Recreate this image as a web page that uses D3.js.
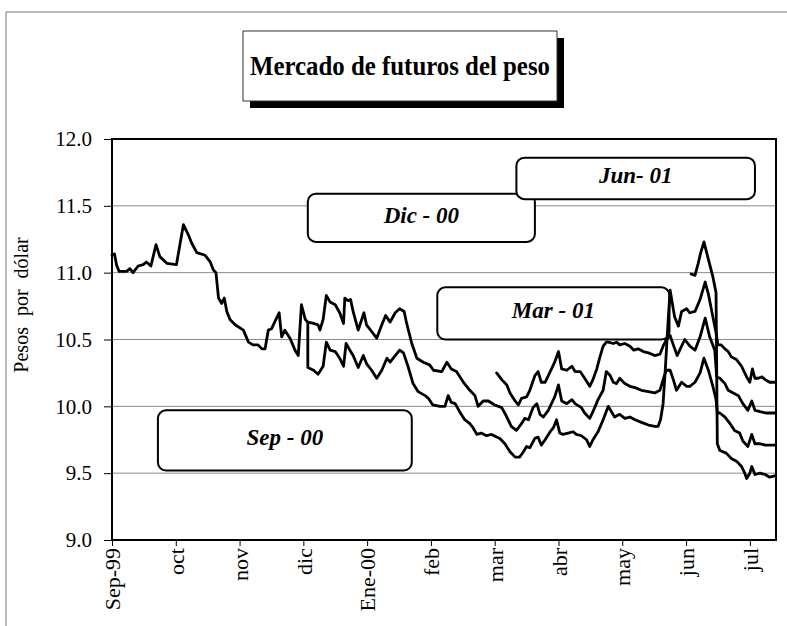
<!DOCTYPE html>
<html>
<head>
<meta charset="utf-8">
<script src="https://cdn.jsdelivr.net/npm/d3@7"></script>
<style>
  body { margin: 0; background: #fff; }
  svg { display: block; font-family: "Liberation Serif", "Times New Roman", serif; }
  .grid line { stroke: #8a8a8a; stroke-width: 1; }
  .serie { fill: none; stroke: #000; stroke-width: 2.8; stroke-linejoin: round; stroke-linecap: round; }
  .tag rect { fill: #fff; stroke: #000; stroke-width: 2; }
  .tag text { font-weight: bold; font-style: italic; font-size: 23px; text-anchor: middle; }
</style>
</head>
<body>
<svg id="chart" width="787" height="626"></svg>
<script>
// x = months since Sep-99 (0 = Sep-99, 1 = oct, ...), y = pesos por dolar
const month_lbl = ["Sep-99", "oct", "nov", "dic", "Ene-00", "feb", "mar", "abr", "may", "jun", "jul"];
const y_ticks = [9.0, 9.5, 10.0, 10.5, 11.0, 11.5, 12.0];
const x_end = 10.41; // last month shown (mid jul)

// contract opened Sep-99, upper path from dic, middle from mar
const s_first = [[0.00, 11.13], [0.04, 11.14], [0.07, 11.06], [0.11, 11.01], [0.23, 11.01], [0.28, 11.03], [0.33, 11.00],
  [0.41, 11.05], [0.49, 11.06], [0.54, 11.08], [0.61, 11.05], [0.69, 11.21], [0.75, 11.12], [0.86, 11.07], [1.01, 11.06],
  [1.12, 11.36], [1.20, 11.28], [1.25, 11.22], [1.33, 11.15], [1.46, 11.13], [1.54, 11.08], [1.59, 11.02], [1.63, 11.00],
  [1.67, 10.81], [1.72, 10.77], [1.76, 10.81], [1.80, 10.71], [1.85, 10.65], [1.93, 10.61], [2.06, 10.57], [2.14, 10.48],
  [2.21, 10.46], [2.29, 10.46], [2.35, 10.43], [2.40, 10.43], [2.45, 10.57], [2.50, 10.58], [2.55, 10.63], [2.62, 10.70],
  [2.66, 10.52], [2.71, 10.57], [2.79, 10.51], [2.87, 10.42], [2.92, 10.38], [2.97, 10.76], [3.03, 10.65], [3.07, 10.63],
  [3.16, 10.62], [3.23, 10.61], [3.26, 10.57], [3.31, 10.65], [3.36, 10.83], [3.42, 10.78], [3.50, 10.76], [3.57, 10.70],
  [3.63, 10.62], [3.65, 10.81], [3.70, 10.79], [3.74, 10.80], [3.78, 10.71], [3.86, 10.57], [3.95, 10.70], [3.99, 10.61],
  [4.07, 10.56], [4.15, 10.51], [4.23, 10.61], [4.29, 10.68], [4.36, 10.63], [4.44, 10.70], [4.51, 10.73], [4.58, 10.71],
  [4.62, 10.62], [4.70, 10.47], [4.78, 10.36], [4.88, 10.33], [4.98, 10.31], [5.04, 10.27], [5.17, 10.26], [5.25, 10.33],
  [5.32, 10.28], [5.40, 10.26], [5.51, 10.18], [5.61, 10.12], [5.69, 10.08], [5.74, 10.00], [5.82, 10.04], [5.90, 10.04],
  [6.00, 10.01], [6.11, 9.99], [6.19, 9.92], [6.26, 9.85], [6.34, 9.82], [6.42, 9.87], [6.47, 9.91], [6.53, 9.90],
  [6.60, 9.99], [6.66, 10.02], [6.71, 9.94], [6.76, 9.92], [6.84, 9.97], [6.89, 10.02], [6.94, 10.07], [7.00, 10.16],
  [7.05, 10.04], [7.13, 10.02], [7.21, 10.05], [7.26, 10.02], [7.36, 9.99], [7.41, 9.95], [7.49, 9.91], [7.54, 9.96],
  [7.62, 10.05], [7.70, 10.12], [7.75, 10.26], [7.81, 10.23], [7.86, 10.18], [7.91, 10.17], [7.96, 10.21], [8.04, 10.17],
  [8.12, 10.15], [8.20, 10.14], [8.30, 10.12], [8.41, 10.11], [8.51, 10.10], [8.59, 10.12], [8.64, 10.20], [8.69, 10.27],
  [8.75, 10.27], [8.80, 10.20], [8.85, 10.12], [8.93, 10.18], [9.01, 10.15], [9.06, 10.15], [9.14, 10.18], [9.22, 10.25],
  [9.28, 10.36], [9.35, 10.27], [9.42, 10.15], [9.47, 10.05], [9.49, 9.95], [9.53, 9.95], [9.61, 9.92], [9.69, 9.87],
  [9.76, 9.82], [9.84, 9.80], [9.89, 9.74], [9.97, 9.70], [10.03, 9.79], [10.08, 9.72], [10.16, 9.72], [10.24, 9.71],
  [10.39, 9.71]];

// splits off at dic, lowest path until jun, then jumps to the top
const s_second = [[3.07, 10.63], [3.07, 10.29], [3.16, 10.27], [3.23, 10.24], [3.31, 10.30], [3.36, 10.48], [3.42, 10.42],
  [3.50, 10.41], [3.57, 10.36], [3.63, 10.30], [3.67, 10.47], [3.73, 10.42], [3.78, 10.38], [3.86, 10.29], [3.94, 10.38],
  [3.99, 10.32], [4.07, 10.27], [4.15, 10.21], [4.23, 10.27], [4.31, 10.36], [4.36, 10.33], [4.44, 10.38], [4.51, 10.42],
  [4.57, 10.40], [4.64, 10.30], [4.72, 10.17], [4.80, 10.11], [4.91, 10.08], [4.96, 10.06], [5.03, 10.01], [5.14, 10.00],
  [5.22, 10.00], [5.27, 10.08], [5.32, 10.03], [5.38, 10.02], [5.45, 9.96], [5.53, 9.90], [5.61, 9.87], [5.66, 9.84],
  [5.72, 9.79], [5.79, 9.80], [5.87, 9.78], [5.95, 9.79], [6.08, 9.76], [6.16, 9.72], [6.24, 9.66], [6.32, 9.62],
  [6.39, 9.62], [6.45, 9.66], [6.50, 9.70], [6.55, 9.69], [6.63, 9.76], [6.68, 9.77], [6.73, 9.71], [6.79, 9.75],
  [6.87, 9.81], [6.92, 9.84], [6.97, 9.90], [7.02, 9.80], [7.07, 9.79], [7.15, 9.80], [7.23, 9.81], [7.28, 9.79],
  [7.36, 9.78], [7.44, 9.75], [7.49, 9.70], [7.54, 9.75], [7.62, 9.81], [7.70, 9.90], [7.78, 10.00], [7.83, 9.96],
  [7.88, 9.92], [7.96, 9.94], [8.04, 9.91], [8.12, 9.92], [8.20, 9.90], [8.30, 9.88], [8.41, 9.86], [8.51, 9.85],
  [8.56, 9.85], [8.60, 9.90], [8.64, 10.02], [8.68, 10.32], [8.72, 10.65], [8.75, 10.87], [8.82, 10.67], [8.88, 10.60],
  [8.93, 10.71], [9.01, 10.73], [9.06, 10.70], [9.14, 10.71], [9.22, 10.80], [9.30, 10.93], [9.35, 10.84], [9.42, 10.67],
  [9.47, 10.55], [9.50, 10.46], [9.55, 10.46], [9.61, 10.43], [9.66, 10.41], [9.71, 10.37], [9.79, 10.35], [9.87, 10.30],
  [9.95, 10.22], [10.00, 10.18], [10.04, 10.28], [10.08, 10.21], [10.13, 10.21], [10.19, 10.22], [10.24, 10.20],
  [10.31, 10.18], [10.39, 10.18]];

// starts in mar
const s_third = [[6.03, 10.25], [6.11, 10.20], [6.19, 10.16], [6.24, 10.10], [6.32, 10.04], [6.37, 10.01], [6.42, 10.06],
  [6.50, 10.07], [6.55, 10.12], [6.63, 10.23], [6.68, 10.26], [6.73, 10.18], [6.79, 10.18], [6.87, 10.26], [6.94, 10.33],
  [7.00, 10.41], [7.05, 10.28], [7.13, 10.27], [7.21, 10.30], [7.26, 10.26], [7.34, 10.26], [7.41, 10.21], [7.49, 10.15],
  [7.54, 10.20], [7.60, 10.28], [7.65, 10.37], [7.70, 10.45], [7.75, 10.48], [7.78, 10.48], [7.86, 10.47], [7.91, 10.48],
  [7.96, 10.46], [8.04, 10.47], [8.12, 10.45], [8.18, 10.42], [8.25, 10.43], [8.33, 10.41], [8.41, 10.40], [8.51, 10.38],
  [8.59, 10.39], [8.64, 10.45], [8.69, 10.50], [8.75, 10.53], [8.80, 10.46], [8.86, 10.38], [8.93, 10.45], [8.98, 10.50],
  [9.06, 10.45], [9.14, 10.42], [9.22, 10.52], [9.30, 10.66], [9.37, 10.52], [9.45, 10.42], [9.48, 10.22], [9.53, 10.21],
  [9.61, 10.17], [9.66, 10.12], [9.74, 10.10], [9.82, 10.08], [9.89, 10.02], [9.97, 9.97], [10.03, 10.04], [10.08, 9.97],
  [10.16, 9.96], [10.26, 9.95], [10.39, 9.95]];

// starts in jun
const s_fourth = [[9.08, 10.99], [9.14, 10.98], [9.19, 11.07], [9.23, 11.15], [9.28, 11.23], [9.35, 11.10], [9.42, 10.97],
  [9.47, 10.85], [9.49, 9.72], [9.53, 9.67], [9.63, 9.65], [9.71, 9.61], [9.79, 9.59], [9.87, 9.55], [9.92, 9.50],
  [9.95, 9.46], [10.00, 9.50], [10.03, 9.55], [10.08, 9.49], [10.16, 9.50], [10.24, 9.49], [10.31, 9.47], [10.39, 9.48]];

const series = [s_first, s_second, s_third, s_fourth];

// label boxes: text, and box corners in data units (month, value)
const tag_txt = ["Sep - 00", "Dic - 00", "Mar - 01", "Jun- 01"];
const tag_x = [[0.72, 4.70], [3.07, 6.63], [5.10, 8.74], [6.34, 10.08]];
const tag_y = [[9.97, 9.52], [11.59, 11.23], [10.89, 10.50], [11.86, 11.55]];

const svg = d3.select("#chart");
const plot = { l: 112, r: 776, t: 139, b: 540 };

const xs = d3.scaleLinear().domain([0, x_end]).range([plot.l, plot.r]);
const ys = d3.scaleLinear().domain([9, 12]).range([plot.b, plot.t]);

// page frame (scan border)
svg.append("line").attr("x1", 6).attr("y1", 12).attr("x2", 6).attr("y2", 626)
    .attr("stroke", "#777").attr("stroke-width", 1);
svg.append("line").attr("x1", 6).attr("y1", 12).attr("x2", 787).attr("y2", 12)
    .attr("stroke", "#777").attr("stroke-width", 1);

// title box with shadow
const tb = { x: 243, y: 31, w: 314, h: 70 };
svg.append("rect").attr("x", tb.x + 7).attr("y", tb.y + 7).attr("width", tb.w).attr("height", tb.h).attr("fill", "#000");
svg.append("rect").attr("x", tb.x).attr("y", tb.y).attr("width", tb.w).attr("height", tb.h)
    .attr("fill", "#fff").attr("stroke", "#333").attr("stroke-width", 1);
svg.append("text").attr("x", tb.x + tb.w / 2).attr("y", tb.y + tb.h / 2)
    .attr("dy", "0.35em").attr("text-anchor", "middle")
    .attr("font-size", 27).attr("font-weight", "bold")
    .attr("textLength", 300).attr("lengthAdjust", "spacingAndGlyphs")
    .text("Mercado de futuros del peso");

// grid
svg.append("g").classed("grid", true).selectAll("line")
    .data(y_ticks.filter(v => v > 9 && v < 12)).join("line")
    .attr("x1", plot.l).attr("x2", plot.r)
    .attr("y1", d => ys(d)).attr("y2", d => ys(d));

// axes
const gy = svg.append("g").attr("transform", "translate(" + plot.l + ",0)")
    .call(d3.axisLeft(ys).tickValues(y_ticks).tickFormat(d3.format(".1f")).tickSize(8).tickPadding(12));
gy.select(".domain").remove();
gy.selectAll("text").attr("font-size", 21).attr("font-family", "Liberation Serif, serif");
gy.selectAll("line").attr("stroke-width", 1);

const gx = svg.append("g").attr("transform", "translate(0," + plot.b + ")")
    .call(d3.axisBottom(xs).tickValues(d3.range(month_lbl.length)).tickFormat(i => month_lbl[i]).tickSize(6));
gx.select(".domain").remove();
gx.selectAll("text").attr("font-size", 22).attr("font-family", "Liberation Serif, serif")
    .attr("transform", "rotate(-90)").attr("text-anchor", "end")
    .attr("x", -8).attr("y", 0).attr("dy", "0.35em");

// plot frame
svg.append("rect").attr("x", plot.l).attr("y", plot.t)
    .attr("width", plot.r - plot.l).attr("height", plot.b - plot.t)
    .attr("fill", "none").attr("stroke", "#000").attr("stroke-width", 2);

// y title
svg.append("text").attr("transform", "translate(21," + 305 + ") rotate(-90)")
    .attr("text-anchor", "middle").attr("dy", "0.35em").attr("font-size", 20)
    .attr("word-spacing", 6).text("Pesos por dólar");

// label boxes
const tags = svg.selectAll(".tag").data(tag_txt).join("g").classed("tag", true);
tags.append("rect")
    .attr("x", (d, i) => xs(tag_x[i][0])).attr("y", (d, i) => ys(tag_y[i][0]))
    .attr("width", (d, i) => xs(tag_x[i][1]) - xs(tag_x[i][0]))
    .attr("height", (d, i) => ys(tag_y[i][1]) - ys(tag_y[i][0]))
    .attr("rx", 8).attr("ry", 8);
tags.append("text")
    .attr("x", (d, i) => (xs(tag_x[i][0]) + xs(tag_x[i][1])) / 2)
    .attr("y", (d, i) => (ys(tag_y[i][0]) + ys(tag_y[i][1])) / 2 - 3)
    .attr("dy", "0.35em").text(d => d);

// lines
const line = d3.line().x(d => xs(d[0])).y(d => ys(d[1]));
svg.selectAll(".serie").data(series).join("path").classed("serie", true).attr("d", line);
</script>
</body>
</html>
